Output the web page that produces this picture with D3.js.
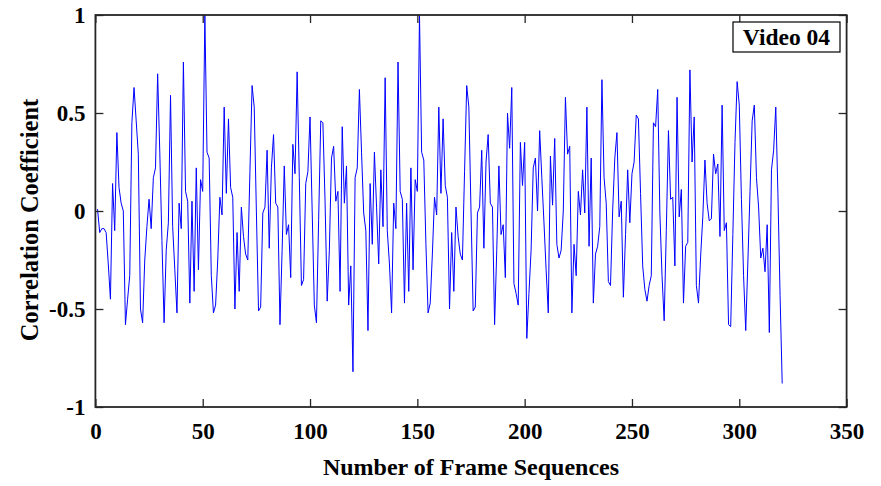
<!DOCTYPE html>
<html>
<head>
<meta charset="utf-8">
<script src="https://cdn.jsdelivr.net/npm/d3@7"></script>
<style>
  body { margin: 0; background: #fff; }
  text { font-family: "Liberation Serif", "Times New Roman", serif; font-weight: bold; fill: #000; }
</style>
</head>
<body>
<script>
// correlation coefficient for each frame sequence (frames 1..320)
var coeff = [
   0.01,-0.11,-0.09,-0.09,-0.11,-0.27,-0.45, 0.14,-0.10, 0.40,
   0.12, 0.04, 0.00,-0.58,-0.45,-0.33, 0.45, 0.63, 0.46, 0.29,
  -0.50,-0.57,-0.25,-0.08, 0.06,-0.09, 0.17, 0.22, 0.70, 0.30,
  -0.15,-0.57,-0.20,-0.06, 0.59,-0.08,-0.30,-0.52, 0.04,-0.09,
   0.76, 0.10, 0.05,-0.47, 0.05,-0.41, 0.22,-0.30, 0.16, 0.10,
   1.00, 0.30, 0.27,-0.33,-0.52,-0.48,-0.25, 0.07,-0.02, 0.53,
   0.09, 0.47, 0.12, 0.07,-0.50,-0.11,-0.41, 0.02,-0.13,-0.22,
  -0.25, 0.20, 0.64, 0.53, 0.00,-0.51,-0.49,-0.01, 0.02, 0.31,
  -0.19, 0.22, 0.39, 0.04, 0.02,-0.58,-0.20, 0.23,-0.12,-0.07,
  -0.34, 0.34, 0.19, 0.71, 0.17,-0.38,-0.35, 0.14, 0.20, 0.48,
   0.00,-0.48,-0.57,-0.05, 0.46, 0.45, 0.05,-0.46,-0.20, 0.27,
   0.33, 0.05, 0.10,-0.41, 0.43, 0.04, 0.23,-0.48,-0.28,-0.82,
   0.17, 0.22, 0.62, 0.30,-0.01,-0.10,-0.61, 0.14,-0.17, 0.30,
   0.02,-0.27, 0.21,-0.08, 0.68,-0.10,-0.27,-0.52, 0.04,-0.09,
   0.76, 0.10, 0.06,-0.47, 0.04,-0.41, 0.22,-0.30, 0.16, 0.10,
   1.00, 0.30, 0.26,-0.17,-0.52,-0.47,-0.22, 0.07,-0.02, 0.53,
   0.09, 0.47, 0.13, 0.07,-0.50,-0.11,-0.41, 0.02,-0.13,-0.22,
  -0.25, 0.20, 0.64, 0.53, 0.00,-0.51,-0.49,-0.01, 0.02, 0.31,
  -0.19, 0.25, 0.39, 0.04, 0.02,-0.58,-0.20, 0.23,-0.12,-0.07,
  -0.34, 0.50, 0.32, 0.63,-0.37,-0.42,-0.48, 0.35, 0.13, 0.35,
  -0.65,-0.42,-0.20, 0.22, 0.27, 0.00, 0.41, 0.17,-0.06,-0.30,
  -0.52, 0.28, 0.03, 0.37,-0.17,-0.24,-0.20, 0.00, 0.58, 0.29,
   0.33,-0.52,-0.17,-0.33, 0.10,-0.02, 0.21,-0.01, 0.53,-0.18,
   0.27,-0.47,-0.22,-0.18,-0.08, 0.67, 0.17, 0.04,-0.36,-0.38,
   0.00, 0.27, 0.40,-0.03, 0.05,-0.44,-0.12, 0.21,-0.06, 0.19,
   0.25, 0.49, 0.47, 0.09,-0.28,-0.40,-0.46,-0.38,-0.33, 0.45,
   0.43, 0.62,-0.01,-0.33,-0.56,-0.10, 0.41, 0.06, 0.07,-0.28,
   0.58,-0.03, 0.11,-0.47,-0.18,-0.16, 0.72, 0.25, 0.48,-0.38,
  -0.47,-0.23,-0.03, 0.26, 0.04,-0.05,-0.04, 0.29, 0.19, 0.24,
  -0.13, 0.54,-0.10,-0.06,-0.58,-0.59,-0.12, 0.35, 0.66, 0.54,
   0.06,-0.33,-0.61,-0.26, 0.10, 0.46, 0.54, 0.17, 0.02,-0.24,
  -0.19,-0.31,-0.07,-0.62, 0.21, 0.31, 0.53, 0.09,-0.43,-0.88
];
var frames = coeff.map(function(d, i) { return i + 1; });

var xTicks = [0, 50, 100, 150, 200, 250, 300, 350];
var yTicks = [-1, -0.5, 0, 0.5, 1];
var yTickLabels = ["-1", "-0.5", "0", "0.5", "1"];

var width = 881;
var height = 486;
var plotLeft = 95.4, plotRight = 846.6, plotTop = 15, plotBottom = 407;

var svg = d3.select("body")
            .append("svg")
            .attr("width", width)
            .attr("height", height);

var x = d3.scaleLinear().domain([0, 350]).range([plotLeft, plotRight]);
var y = d3.scaleLinear().domain([-1, 1]).range([plotBottom, plotTop]);

svg.append("clipPath").attr("id", "clip")
   .append("rect")
   .attr("x", plotLeft).attr("y", plotTop)
   .attr("width", plotRight - plotLeft).attr("height", plotBottom - plotTop);

var line = d3.line()
             .x(function(d, i) { return x(frames[i]); })
             .y(function(d) { return y(d); });

svg.append("path")
   .datum(coeff)
   .attr("clip-path", "url(#clip)")
   .attr("d", line)
   .attr("fill", "none")
   .attr("stroke", "#0000ff")
   .attr("stroke-width", 1);

// axes, ticks pointing inward like matlab
function styleAxis(g) {
    g.select(".domain").remove();
    g.selectAll(".tick line").attr("stroke", "#262626").attr("stroke-width", 1.3);
    g.selectAll(".tick text")
     .style("font-family", "'Liberation Serif', serif")
     .style("font-weight", "bold")
     .style("font-size", "23px")
     .attr("fill", "#000");
}

svg.append("g")
   .attr("transform", "translate(0," + plotBottom + ")")
   .call(d3.axisBottom(x).tickValues(xTicks).tickSize(-8).tickPadding(16))
   .call(styleAxis);

svg.append("g")
   .attr("transform", "translate(0," + plotTop + ")")
   .call(d3.axisTop(x).tickValues(xTicks).tickSize(-8).tickFormat(""))
   .call(styleAxis);

svg.append("g")
   .attr("transform", "translate(" + plotLeft + ",0)")
   .call(d3.axisLeft(y).tickValues(yTicks).tickSize(-8).tickPadding(10)
           .tickFormat(function(d, i) { return yTickLabels[i]; }))
   .call(styleAxis);

svg.append("g")
   .attr("transform", "translate(" + plotRight + ",0)")
   .call(d3.axisRight(y).tickValues(yTicks).tickSize(-8).tickFormat(""))
   .call(styleAxis);

svg.append("rect")
   .attr("x", plotLeft).attr("y", plotTop)
   .attr("width", plotRight - plotLeft).attr("height", plotBottom - plotTop)
   .attr("fill", "none")
   .attr("stroke", "#262626")
   .attr("stroke-width", 1.8);

// axis titles
svg.append("text")
   .attr("x", 471)
   .attr("y", 475)
   .attr("text-anchor", "middle")
   .style("font-size", "24px")
   .text("Number of Frame Sequences");

svg.append("text")
   .attr("transform", "translate(38,220) rotate(-90)")
   .attr("text-anchor", "middle")
   .style("font-size", "24.5px")
   .text("Correlation Coefficient");

// label box
svg.append("rect")
   .attr("x", 733).attr("y", 22)
   .attr("width", 107).attr("height", 30)
   .attr("fill", "#fff")
   .attr("stroke", "#000")
   .attr("stroke-width", 1.2);

svg.append("text")
   .attr("x", 786.5)
   .attr("y", 45)
   .attr("text-anchor", "middle")
   .style("font-size", "23.5px")
   .text("Video 04");
</script>
</body>
</html>
